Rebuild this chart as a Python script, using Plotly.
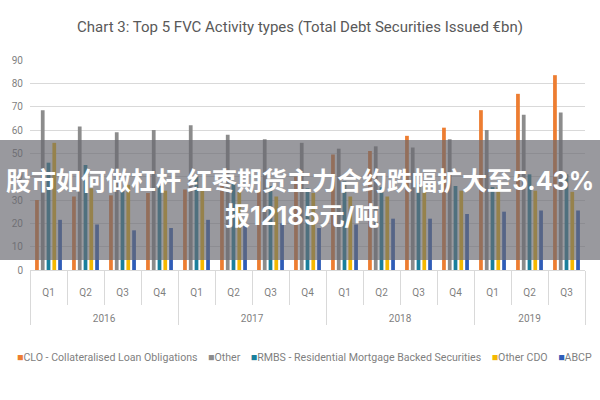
import plotly.graph_objects as go

years = ["2016"] * 4 + ["2017"] * 4 + ["2018"] * 4 + ["2019"] * 3
quarters = ["Q1", "Q2", "Q3", "Q4"] * 3 + ["Q1", "Q2", "Q3"]

clo = [30, 31.5, 32, 33, 34.5, 37, 38, 40, 49.5, 51, 57.5, 61, 68.5, 75.5, 83.5]
other = [68.5, 61.5, 59, 60, 62, 58, 56, 54.5, 52, 53, 52.5, 56, 60, 66.5, 67.5]
rmbs = [46, 45, 34, 36, 40, 37, 36, 35, 38, 35.5, 37, 36, 35.5, 41, 41]
other_cdo = [54.5, 35, 36.5, 34, 34, 33.5, 31.5, 33, 31.5, 31.5, 36, 34, 35.5, 34, 33.5]
abcp = [21.5, 19.5, 17, 18, 21.5, 20, 20, 18, 19.5, 22, 22, 24, 25, 25.5, 25.5]

series = [
    ("CLO - Collateralised Loan Obligations", clo, "#ED7D31"),
    ("Other", other, "#8C8C8C"),
    ("RMBS - Residential Mortgage Backed Securities", rmbs, "#1A7F9C"),
    ("Other CDO", other_cdo, "#F5B800"),
    ("ABCP", abcp, "#2F5DB8"),
]

title_text = "Chart 3: Top 5 FVC Activity types (Total Debt Securities Issued €bn)"
banner_line1 = "股市如何做杠杆 红枣期货主力合约跌幅扩大至5.43%"
banner_line2 = "报12185元/吨"

FONT = "Roboto, sans-serif"
GRAY = "#595959"
TICKGRAY = "#7F7F7F"

# pad the axis labels downward (Excel-style spacing below the axis)
x_years = ["<br><br>" + y for y in years]
x_quarters = ["<br>" + q for q in quarters]

fig = go.Figure()
for name, vals, color in series:
    fig.add_trace(go.Bar(x=[x_years, x_quarters], y=vals, name=name,
                         marker=dict(color=color, line=dict(width=0))))

L, R, T, B = 30, 15, 60, 130
W = 600 - L - R
H = 400 - T - B

def px_to_paper_x(px):
    return (px - L) / W

def px_to_paper_y(py):
    return (400 - B - py) / H

fig.update_layout(
    width=600, height=400,
    margin=dict(l=L, r=R, t=T, b=B),
    paper_bgcolor="white", plot_bgcolor="white",
    barmode="group", bargap=0.22, bargroupgap=0.35,
    font=dict(family=FONT, color=GRAY, size=10),
    title=dict(text=title_text, x=0.5, xanchor="center", y=1 - 27 / 400, yanchor="middle",
               font=dict(family=FONT, size=15, color=GRAY)),
    showlegend=False,
)
fig.update_yaxes(range=[0, 90], dtick=10, showgrid=True, gridcolor="#D9D9D9", gridwidth=1,
                 zeroline=False, showline=False, ticks="", ticklabelstandoff=6,
                 tickfont=dict(size=10, color=TICKGRAY))
fig.update_xaxes(type="multicategory", showgrid=False, showline=True, linecolor="#D9D9D9",
                 ticks="outside", tickson="boundaries", ticklen=34, tickcolor="#D9D9D9",
                 showdividers=True, dividercolor="#D9D9D9", dividerwidth=1,
                 tickfont=dict(size=10, color=TICKGRAY))

# legend as a single centred line of text
legend_parts = []
for name, _, color in series:
    legend_parts.append(f"<span style='color:{color}'>■</span>{name}")
legend_text = "    ".join(legend_parts)
fig.add_annotation(text=legend_text, xref="paper", yref="paper",
                   x=px_to_paper_x(304), y=px_to_paper_y(357), showarrow=False,
                   xanchor="center", yanchor="middle",
                   font=dict(family=FONT, size=10.6, color=TICKGRAY))

fig.add_shape(type="rect", xref="paper", yref="paper",
              x0=px_to_paper_x(-5), x1=px_to_paper_x(605),
              y0=px_to_paper_y(260), y1=px_to_paper_y(140),
              fillcolor="rgba(105,105,112,0.68)", line=dict(width=0), layer="above")
fig.add_annotation(text=banner_line1, xref="paper", yref="paper",
                   x=px_to_paper_x(300), y=px_to_paper_y(181), showarrow=False,
                   xanchor="center", yanchor="middle",
                   font=dict(family="Inter, Noto Sans CJK SC", size=25, color="white", weight="bold"))
fig.add_annotation(text=banner_line2, xref="paper", yref="paper",
                   x=px_to_paper_x(302), y=px_to_paper_y(216), showarrow=False,
                   xanchor="center", yanchor="middle",
                   font=dict(family="Inter, Noto Sans CJK SC", size=25, color="white", weight="bold"))

fig.write_html("out.html")
